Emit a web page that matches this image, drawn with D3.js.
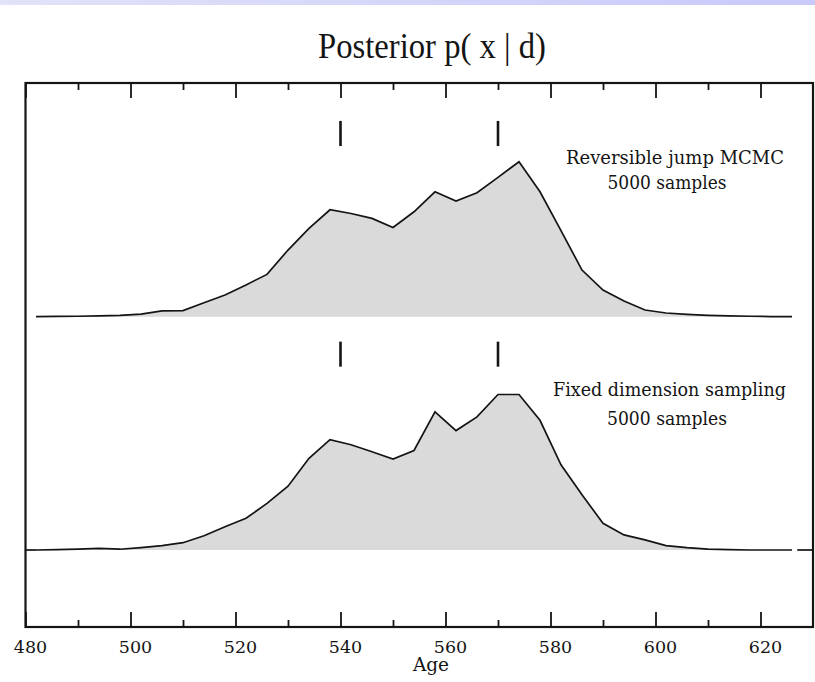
<!DOCTYPE html>
<html>
<head>
<meta charset="utf-8">
<script src="https://cdn.jsdelivr.net/npm/d3@7"></script>
<style>
  html, body { margin: 0; padding: 0; background: #fff; }
  svg { display: block; }
</style>
</head>
<body>
<svg id="chart" width="815" height="682"></svg>
<script>
// ---- data ----
const ages = [482, 486, 490, 494, 498, 502, 506, 510, 514, 518, 522, 526, 530, 534, 538, 542, 546, 550, 554,
              558, 562, 566, 570, 574, 578, 582, 586, 590, 594, 598, 602, 606, 610, 614, 618, 622, 626];
const rjmcmc = [0, 0.002, 0.003, 0.005, 0.008, 0.017, 0.037, 0.039, 0.09, 0.14, 0.205, 0.273, 0.43, 0.57, 0.69,
                0.666, 0.634, 0.576, 0.677, 0.806, 0.746, 0.8, 0.899, 1.0, 0.806, 0.555, 0.301, 0.172, 0.101,
                0.043, 0.024, 0.015, 0.009, 0.005, 0.003, 0.001, 0];
const fixedDim = [0, 0.002, 0.006, 0.011, 0.005, 0.015, 0.028, 0.047, 0.092, 0.15, 0.204, 0.3, 0.41, 0.59, 0.71,
                  0.677, 0.632, 0.585, 0.64, 0.888, 0.768, 0.856, 1.0, 1.0, 0.834, 0.548, 0.355, 0.172, 0.097,
                  0.065, 0.028, 0.015, 0.006, 0.002, 0, 0, 0];
const markerAges = [540, 570];
const majorTicks = [480, 500, 520, 540, 560, 580, 600, 620];
const minorTicks = [490, 510, 530, 550, 570, 590, 610];
const panelLabels = [["Reversible jump MCMC", "5000 samples"], ["Fixed dimension sampling", "5000 samples"]];
const titleText = "Posterior p( x | d)";
const xLabel = "Age";

// ---- layout ----
const W = 815, H = 682;
const frame = { left: 25.5, right: 813, top: 83, bottom: 627 };
const ink = "#141414";
const svg = d3.select("#chart");

const defs = svg.append("defs");
const grad = defs.append("linearGradient").attr("id", "band").attr("x1", "0").attr("x2", "1");
grad.append("stop").attr("offset", "0").attr("stop-color", "#e2e2f8");
grad.append("stop").attr("offset", "1").attr("stop-color", "#c9c9fb");
svg.append("rect").attr("x", 0).attr("y", 0).attr("width", W).attr("height", 5).attr("fill", "url(#band)");

const x = d3.scaleLinear().domain([480, 630]).range([frame.left, frame.right]);

const panels = [
  { values: rjmcmc, base: 316.7, height: 155, marker: [1.101, 1.263], label: panelLabels[0],
    lines: [{ cx: 675, y: 164, w: 218 }, { cx: 667, y: 188.5, w: 119 }], extra: false },
  { values: fixedDim, base: 550, height: 155.5, marker: [1.179, 1.34], label: panelLabels[1],
    lines: [{ cx: 669.5, y: 396, w: 233 }, { cx: 667, y: 425, w: 120 }], extra: true }
];

panels.forEach(p => {
  const y = d3.scaleLinear().domain([0, 1]).range([p.base, p.base - p.height]);
  const data = ages.map((a, i) => [a, p.values[i]]);
  const g = svg.append("g");
  g.append("path")
    .datum(data)
    .attr("fill", "#dadada")
    .attr("d", d3.area().x(d => x(d[0])).y0(y(0)).y1(d => y(d[1])));
  g.append("path")
    .datum(data)
    .attr("fill", "none")
    .attr("stroke", ink)
    .attr("stroke-width", 1.7)
    .attr("stroke-linejoin", "miter")
    .attr("d", d3.line().x(d => x(d[0])).y(d => y(d[1])));
  if (p.extra) {
    [[480, 482], [627, 630]].forEach(seg => {
      g.append("line")
        .attr("x1", x(seg[0])).attr("x2", x(seg[1]))
        .attr("y1", y(0)).attr("y2", y(0))
        .attr("stroke", ink).attr("stroke-width", 1.7);
    });
  }
  g.selectAll("line.marker").data(markerAges).enter().append("line")
    .attr("class", "marker")
    .attr("x1", d => x(d)).attr("x2", d => x(d))
    .attr("y1", y(p.marker[0])).attr("y2", y(p.marker[1]))
    .attr("stroke", ink).attr("stroke-width", 2.6);
  p.label.forEach((txt, i) => {
    const L = p.lines[i];
    g.append("text")
      .attr("x", L.cx - L.w / 2).attr("y", L.y)
      .attr("textLength", L.w).attr("lengthAdjust", "spacingAndGlyphs")
      .attr("font-family", "DejaVu Serif")
      .attr("font-size", 18)
      .attr("fill", ink)
      .text(txt);
  });
});

// frame
svg.append("rect")
  .attr("x", frame.left).attr("y", frame.top)
  .attr("width", frame.right - frame.left).attr("height", frame.bottom - frame.top)
  .attr("fill", "none").attr("stroke", ink).attr("stroke-width", 2.2);

// axes (inward ticks)
function styleAxis(g) {
  g.select(".domain").remove();
  g.selectAll(".tick line").attr("stroke", ink).attr("stroke-width", 1.8);
}
svg.append("g").attr("transform", `translate(0,${frame.bottom})`)
  .call(d3.axisBottom(x).tickValues(majorTicks).tickSize(-15).tickFormat(d3.format("d")))
  .call(styleAxis)
  .call(g => g.selectAll(".tick text")
    .attr("font-family", "DejaVu Serif").attr("font-size", 17.5).attr("fill", ink)
    .attr("dx", 4.5).attr("y", 26.3).attr("dy", 0));
svg.append("g").attr("transform", `translate(0,${frame.bottom})`)
  .call(d3.axisBottom(x).tickValues(minorTicks).tickSize(-7).tickFormat(""))
  .call(styleAxis);
svg.append("g").attr("transform", `translate(0,${frame.top})`)
  .call(d3.axisTop(x).tickValues(majorTicks).tickSize(-15).tickFormat(""))
  .call(styleAxis);
svg.append("g").attr("transform", `translate(0,${frame.top})`)
  .call(d3.axisTop(x).tickValues(minorTicks).tickSize(-7).tickFormat(""))
  .call(styleAxis);

// title & axis label
svg.append("text")
  .attr("x", 318).attr("y", 58)
  .attr("textLength", 228).attr("lengthAdjust", "spacingAndGlyphs")
  .attr("font-family", "Liberation Serif")
  .attr("font-size", 35)
  .attr("fill", ink)
  .text(titleText);
svg.append("text")
  .attr("x", 431).attr("y", 671)
  .attr("text-anchor", "middle")
  .attr("font-family", "DejaVu Serif")
  .attr("font-size", 18.5)
  .attr("fill", ink)
  .text(xLabel);
</script>
</body>
</html>
